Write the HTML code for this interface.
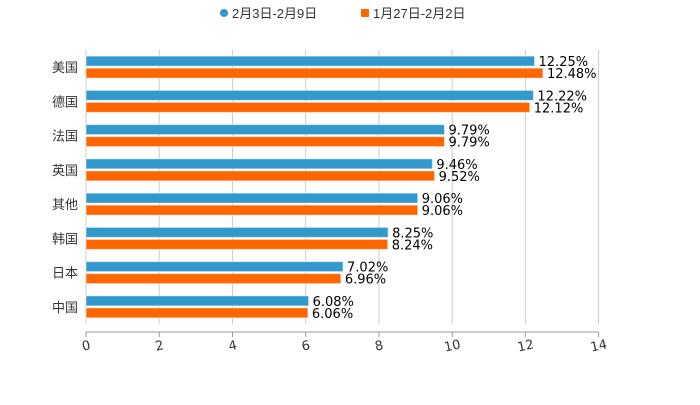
<!DOCTYPE html>
<html><head><meta charset="utf-8"><style>
body{margin:0;background:#fff;width:700px;height:400px;overflow:hidden}
svg{font-family:"Liberation Sans","Noto Sans CJK SC",sans-serif}
.dv{font-family:"DejaVu Sans","Noto Sans CJK SC",sans-serif}
</style></head><body>
<svg id="c" width="700" height="400">
<g>
<g><circle cx="224" cy="13" r="4" fill="#3399cc"/><text x="232" y="18" font-size="13" fill="#333">2月3日-2月9日</text></g>
<g><rect x="361" y="9" width="8" height="8" rx="1" fill="#ff6600"/><text x="373" y="18" font-size="13" fill="#333">1月27日-2月2日</text></g>
</g>
</svg>
<script>
const categories=["美国","德国","法国","英国","其他","韩国","日本","中国"];
const seriesA=[12.25,12.22,9.79,9.46,9.06,8.25,7.02,6.08];
const seriesB=[12.48,12.12,9.79,9.52,9.06,8.24,6.96,6.06];
const ticks=[0,2,4,6,8,10,12,14];
const svgEl=document.getElementById('c'),NS="http://www.w3.org/2000/svg";
const x0=86,x1=598.6,plotTop=50,plotBot=324,band=(plotBot-plotTop)/categories.length;
const X=v=>x0+(v-0)/14*(x1-x0);
function el(t,a){const e=document.createElementNS(NS,t);for(const k in a)e.setAttribute(k,a[k]);svgEl.appendChild(e);return e;}
ticks.forEach(t=>{
 const g=el('line',{x1:X(t),x2:X(t),y1:plotTop,y2:plotBot,stroke:'#ccc','stroke-width':1});
 
 
 const tk=el('line',{x1:X(t),x2:X(t),y1:332,y2:337,stroke:'#999'});
 
 
 const tx=el('text',{x:X(t),y:350,'font-size':13,fill:'#333','text-anchor':'middle',class:'dv',transform:`rotate(-12 ${X(t)} 345)`});
 tx.textContent=t;
 
 
});
const ax=el('line',{x1:x0,x2:x1,y1:332,y2:332,stroke:'#999'});


categories.forEach((c,i)=>{
 const cy=plotTop+band*(i+0.5);
 const l=el('text',{x:78,y:cy+5,'font-size':13,fill:'#333','text-anchor':'end'});
 l.textContent=c;
 
 
 [[seriesA,'#3399cc',cy-11,'a'],[seriesB,'#ff6600',cy+1,'b']].forEach(([s,col,y,k])=>{
  const r=el('rect',{x:x0,y:y,width:X(s[i])-x0,height:10,fill:col,stroke:'rgba(255,255,255,0.5)','stroke-width':1});
  
  
  const t=el('text',{x:X(s[i])+4,y:y+10,'font-size':13,fill:'#000',class:'dv'});
  t.textContent=s[i].toFixed(2)+'%';
  
  
 });
});
</script>
</body></html>
